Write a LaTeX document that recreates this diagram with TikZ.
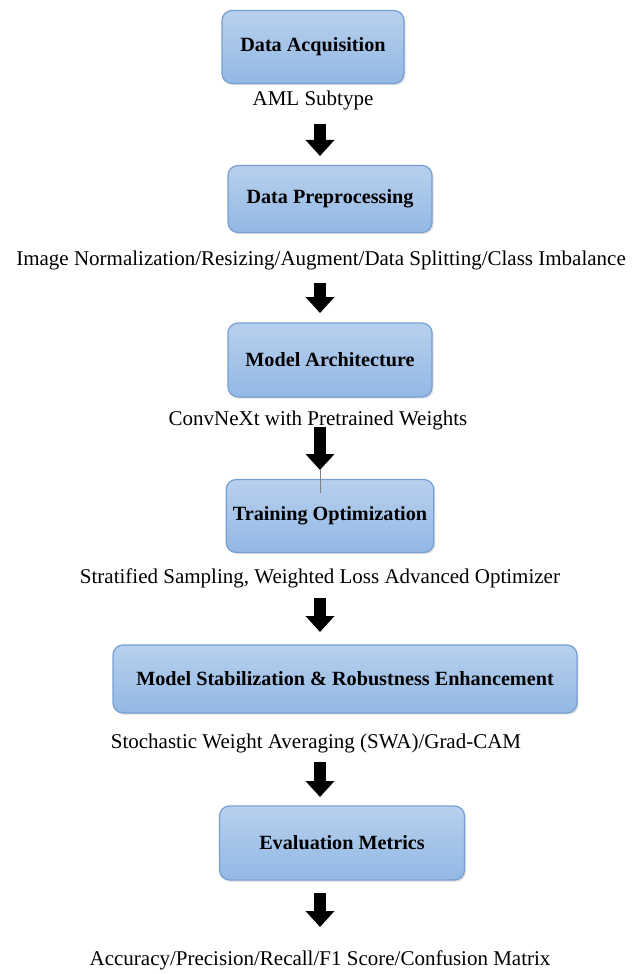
\documentclass[tikz,border=0pt]{standalone}
\usepackage{fontspec}
\setmainfont{Liberation Serif}
\usetikzlibrary{arrows.meta,shadows}
\definecolor{boxtop}{RGB}{184,208,238}
\definecolor{boxbot}{RGB}{146,184,228}
\definecolor{boxline}{RGB}{118,160,212}
\tikzset{
  stage/.style={draw=boxline, line width=0.6pt, rounded corners=5pt,
    top color=boxtop, bottom color=boxbot, font=\fontsize{10.1}{12}\selectfont\bfseries,
    drop shadow={shadow xshift=0.8pt, shadow yshift=-0.8pt, opacity=0.25}},
  note/.style={font=\fontsize{10.5}{12}\selectfont},
  flow/.style={line width=5.8pt, -{Triangle[length=8pt,width=14pt]}}
}
\begin{document}
\begin{tikzpicture}[x=0.5pt,y=-0.5pt]
\useasboundingbox (0,0) rectangle (633,974);
\node[stage, minimum width=91pt, minimum height=36.5pt] at (313,47) (b1) {Data Acquisition};
\node[note] at (313,100) (l1) {AML Subtype};
\node[stage, minimum width=102pt, minimum height=33.5pt] at (330,199) (b2) {Data Preprocessing};
\node[note] at (321,260) (l2) {Image Normalization/Resizing/Augment/Data Splitting/Class Imbalance};
\node[stage, minimum width=102pt, minimum height=37pt] at (330,360) (b3) {Model Architecture};
\node[note] at (318,420) (l3) {ConvNeXt with Pretrained Weights};
\node[stage, minimum width=102.5pt, minimum height=36.5pt] at (330,516) (b4) {Training Optimization};
\node[note] at (320,578) (l4) {Stratified Sampling, Weighted Loss Advanced Optimizer};
\node[stage, minimum width=232pt, minimum height=34pt] at (345,679) (b5) {Model Stabilization \& Robustness Enhancement};
\node[note] at (316,743) (l5) {Stochastic Weight Averaging (SWA)/Grad-CAM};
\node[stage, minimum width=122.5pt, minimum height=37pt] at (342,843) (b6) {Evaluation Metrics};
\node[note] at (320,960) (l6) {Accuracy/Precision/Recall/F1 Score/Confusion Matrix};
%arrows
\coordinate (a1s) at (320,124); \coordinate (a1e) at (320,156);
\coordinate (a2s) at (320,283); \coordinate (a2e) at (320,313);
\coordinate (a3s) at (320,427); \coordinate (a3e) at (320,470);
\coordinate (a4s) at (320,598); \coordinate (a4e) at (320,632);
\coordinate (a5s) at (320,762); \coordinate (a5e) at (320,797);
\coordinate (a6s) at (320,893); \coordinate (a6e) at (320,927);
\foreach \i in {1,...,6} \draw[flow] (a\i s) -- (a\i e);
%stray line
\coordinate (t4) at (320,493);
\draw[gray, line width=0.3pt] (a3e) -- (t4);
\end{tikzpicture}
\end{document}
